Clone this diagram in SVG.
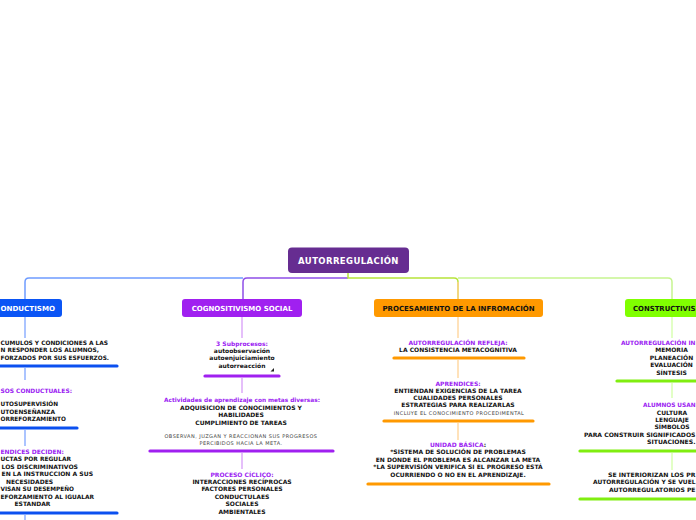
<svg xmlns="http://www.w3.org/2000/svg" width="696" height="520" viewBox="0 0 696 520">
<style>
text{font-family:"DejaVu Sans","Verdana",sans-serif;font-weight:bold}
.b{font-size:6px;fill:#111}
.p{font-size:6px;fill:#9b22f2}
.g{font-size:5px;font-weight:normal;fill:#444;letter-spacing:0.45px}
.n{font-size:7px;text-anchor:middle}
.m{text-anchor:middle}
.conn{fill:none;stroke-width:1.5}
.bar{stroke-width:3.2;stroke-linecap:round;fill:none}
</style>
<rect width="696" height="520" fill="#fff"/>
<g id="connectors">
<path class="conn" d="M243,278 H29 Q25,278 25,282 V299" stroke="#6f9cff"/>
<path class="conn" d="M348,278 H247 Q243,278 243,282 V299" stroke="#8f4fe8"/>
<path class="conn" d="M348,273 V278 H454 Q458,278 458,282 V299" stroke="#b7e43a"/>
<path class="conn" d="M458,278 H668 Q672,278 672,282 V299" stroke="#c6f590"/>
<path class="conn" d="M458,282 V299" stroke="#ffd28a"/>
<g stroke="#8fb0ff" stroke-width="1.5">
<line x1="25" y1="317" x2="25" y2="338"/><line x1="25" y1="368" x2="25" y2="380"/><line x1="25" y1="430" x2="25" y2="446"/><line x1="25" y1="515" x2="25" y2="520"/>
</g>
<g stroke="#dcaaf8" stroke-width="1.5">
<line x1="242" y1="317" x2="242" y2="338"/><line x1="242" y1="378" x2="242" y2="393"/><line x1="242" y1="453" x2="242" y2="469"/>
</g>
<g stroke="#ffd9a3" stroke-width="1.5">
<line x1="458" y1="317" x2="458" y2="338"/><line x1="458" y1="360" x2="458" y2="378"/><line x1="458" y1="423" x2="458" y2="440"/>
</g>
<g stroke="#d9ffb3" stroke-width="1.5">
<line x1="672" y1="317" x2="672" y2="338"/><line x1="672" y1="383" x2="672" y2="398"/><line x1="672" y1="453" x2="672" y2="470"/>
</g>
</g>
<g id="root">
<rect x="288" y="247.5" width="121" height="25.5" rx="4" fill="#662d91"/>
<text x="348.5" y="264" class="m" style="font-size:8.5px;letter-spacing:0.4px" fill="#fff">AUTORREGULACIÓN</text>
</g>
<g id="conductismo">
<rect x="-10" y="299" width="72" height="18" rx="3" fill="#0b55f5"/>
<text x="0.5" y="311" style="font-size:7px" fill="#fff" textLength="54.5" lengthAdjust="spacingAndGlyphs">ONDUCTISMO</text>
</g>
<g id="cond-1">
<text class="b" x="0.5" y="345" textLength="107.5" lengthAdjust="spacingAndGlyphs">CUMULOS Y CONDICIONES A LAS</text>
<text class="b" x="0.5" y="352" textLength="98.5" lengthAdjust="spacingAndGlyphs">N RESPONDER LOS ALUMNOS,</text>
<text class="b" x="0.5" y="360" textLength="108.5" lengthAdjust="spacingAndGlyphs">FORZADOS POR SUS ESFUERZOS.</text>
<line class="bar" x1="-5" y1="366" x2="117" y2="366" stroke="#0b50f0"/>
</g>
<g id="cond-2">
<text class="p" x="0.5" y="393" textLength="71.5" lengthAdjust="spacingAndGlyphs">SOS CONDUCTUALES:</text>
<text class="b" x="0.5" y="406" textLength="57.5" lengthAdjust="spacingAndGlyphs">UTOSUPERVISIÓN</text>
<text class="b" x="0.5" y="414" textLength="54.5" lengthAdjust="spacingAndGlyphs">UTOENSEÑANZA</text>
<text class="b" x="0.5" y="421" textLength="65.5" lengthAdjust="spacingAndGlyphs">ORREFORZAMIENTO</text>
<line class="bar" x1="-5" y1="428" x2="77" y2="428" stroke="#0b50f0"/>
</g>
<g id="cond-3">
<text class="p" x="0.5" y="454" textLength="63.5" lengthAdjust="spacingAndGlyphs">ENDICES DECIDEN:</text>
<text class="b" x="0.5" y="461" textLength="70.5" lengthAdjust="spacingAndGlyphs">UCTAS POR REGULAR</text>
<text class="b" x="1.5" y="469" textLength="76.5" lengthAdjust="spacingAndGlyphs">LOS DISCRIMINATIVOS</text>
<text class="b" x="1.5" y="476" textLength="91.5" lengthAdjust="spacingAndGlyphs">EN LA INSTRUCCION A SUS</text>
<text class="b m" x="29.5" y="484">NECESIDADES</text>
<text class="b" x="0.5" y="491" textLength="73.5" lengthAdjust="spacingAndGlyphs">VISAN SU DESEMPEÑO</text>
<text class="b" x="0.5" y="499" textLength="93.5" lengthAdjust="spacingAndGlyphs">EFORZAMIENTO AL IGUALAR</text>
<text class="b m" x="32.5" y="506">ESTANDAR</text>
<line class="bar" x1="-5" y1="513" x2="117" y2="513" stroke="#0b50f0"/>
</g>
<g id="cognositivismo">
<rect x="182" y="299" width="120" height="18" rx="3" fill="#a020f0"/>
<text class="n" x="242" y="311" fill="#fff">COGNOSITIVISMO SOCIAL</text>
</g>
<g id="cog-1">
<text class="p m" x="242" y="346">3 Subprocesos:</text>
<text class="b m" x="242" y="352.5">autoobservación</text>
<text class="b m" x="242" y="360">autoenjuiciamiento</text>
<text class="b m" x="242" y="367.5">autorreacción</text>
<polygon points="274,368 274,371.5 270.5,371.5" fill="#222"/>
<line class="bar" x1="205" y1="376" x2="279" y2="376" stroke="#a020f0"/>
</g>
<g id="cog-2">
<text class="p m" x="242" y="402" style="font-size:5.8px">Actividades de aprendizaje con metas diversas:</text>
<text class="b m" x="241" y="410">ADQUISICION DE CONOCIMIENTOS Y</text>
<text class="b m" x="241" y="417">HABILIDADES</text>
<text class="b m" x="241" y="425">CUMPLIMIENTO DE TAREAS</text>
<text class="g m" x="241" y="438">OBSERVAN, JUZGAN Y REACCIONAN SUS PROGRESOS</text>
<text class="g m" x="241" y="445">PERCIBIDOS HACIA LA META.</text>
<line class="bar" x1="150" y1="451" x2="333" y2="451" stroke="#a020f0"/>
</g>
<g id="cog-3">
<text class="p m" x="242" y="477">PROCESO CÍCLIÇO:</text>
<text class="b m" x="242" y="483.5">INTERACCIONES RECÍPROCAS</text>
<text class="b m" x="242" y="491">FACTORES PERSONALES</text>
<text class="b m" x="242" y="498.5">CONDUCTULAES</text>
<text class="b m" x="242" y="506">SOCIALES</text>
<text class="b m" x="242" y="513.5">AMBIENTALES</text>
<line class="bar" x1="188" y1="521.5" x2="297" y2="521.5" stroke="#c58af5"/>
</g>
<g id="procesamiento">
<rect x="374" y="299" width="169" height="18" rx="3" fill="#ff9900"/>
<text class="n" x="458.5" y="311" fill="#111">PROCESAMIENTO DE LA INFROMACIÓN</text>
</g>
<g id="proc-1">
<text class="p m" x="458" y="345">AUTORREGULACIÓN REFLEJA:</text>
<text class="b m" x="458" y="352">LA CONSISTENCIA METACOGNITIVA</text>
<line class="bar" x1="394" y1="358" x2="524" y2="358" stroke="#ff9900"/>
</g>
<g id="proc-2">
<text class="p m" x="458" y="386">APRENDICES:</text>
<text class="b m" x="458" y="393">ENTIENDAN EXIGENCIAS DE LA TAREA</text>
<text class="b m" x="458" y="400">CUALIDADES PERSONALES</text>
<text class="b m" x="458" y="407">ESTRATEGIAS PARA REALIZARLAS</text>
<text class="g m" x="459" y="415">INCLUYE EL CONOCIMIENTO PROCEDIMENTAL</text>
<line class="bar" x1="384" y1="421" x2="533" y2="421" stroke="#ff9900"/>
</g>
<g id="proc-3">
<text class="b m" x="458" y="447"><tspan fill="#9b22f2">UNIDAD BÁSICA</tspan>:</text>
<text class="b m" x="458" y="454">*SISTEMA DE SOLUCIÓN DE PROBLEMAS</text>
<text class="b m" x="458" y="462">EN DONDE EL PROBLEMA ES ALCANZAR LA META</text>
<text class="b m" x="458" y="469">*LA SUPERVISIÓN VERIFICA SI EL PROGRESO ESTÁ</text>
<text class="b m" x="458" y="477">OCURRIENDO O NO EN EL APRENDIZAJE.</text>
<line class="bar" x1="368" y1="484" x2="549" y2="484" stroke="#ff9900"/>
</g>
<g id="constructivismo">
<rect x="625" y="299" width="80" height="18" rx="3" fill="#80ff00"/>
<text x="633" y="311" style="font-size:7px" fill="#111" textLength="62.5" lengthAdjust="spacingAndGlyphs">CONSTRUCTIVIS</text>
</g>
<g id="cons-1">
<text class="p" x="621" y="345" textLength="74.5" lengthAdjust="spacingAndGlyphs">AUTORREGULACIÓN IN</text>
<text class="b m" x="671.5" y="352">MEMORIA</text>
<text class="b m" x="671.5" y="360">PLANEACIÓN</text>
<text class="b m" x="671.5" y="367">EVALUACIÓN</text>
<text class="b m" x="671.5" y="375">SÍNTESIS</text>
<line class="bar" x1="617" y1="381" x2="705" y2="381" stroke="#80ee10"/>
</g>
<g id="cons-2">
<text class="p" x="643" y="407" textLength="52.5" lengthAdjust="spacingAndGlyphs">ALUMNOS USAN</text>
<text class="b m" x="672" y="415">CULTURA</text>
<text class="b m" x="672" y="422">LENGUAJE</text>
<text class="b m" x="672" y="429">SÍMBOLOS</text>
<text class="b" x="584" y="437" textLength="111.5" lengthAdjust="spacingAndGlyphs">PARA CONSTRUIR SIGNIFICADOS</text>
<text class="b" x="647" y="444" textLength="48.5" lengthAdjust="spacingAndGlyphs">SITUACIONES.</text>
<line class="bar" x1="580" y1="451" x2="705" y2="451" stroke="#80ee10"/>
</g>
<g id="cons-3">
<text class="b" x="608" y="477" textLength="87.5" lengthAdjust="spacingAndGlyphs">SE INTERIORIZAN LOS PR</text>
<text class="b" x="593" y="484" textLength="102.5" lengthAdjust="spacingAndGlyphs">AUTORREGULACIÓN Y SE VUEL</text>
<text class="b" x="609" y="492" textLength="86.5" lengthAdjust="spacingAndGlyphs">AUTORREGULATORIOS PE</text>
<line class="bar" x1="580" y1="499" x2="705" y2="499" stroke="#80ee10"/>
</g>
</svg>
